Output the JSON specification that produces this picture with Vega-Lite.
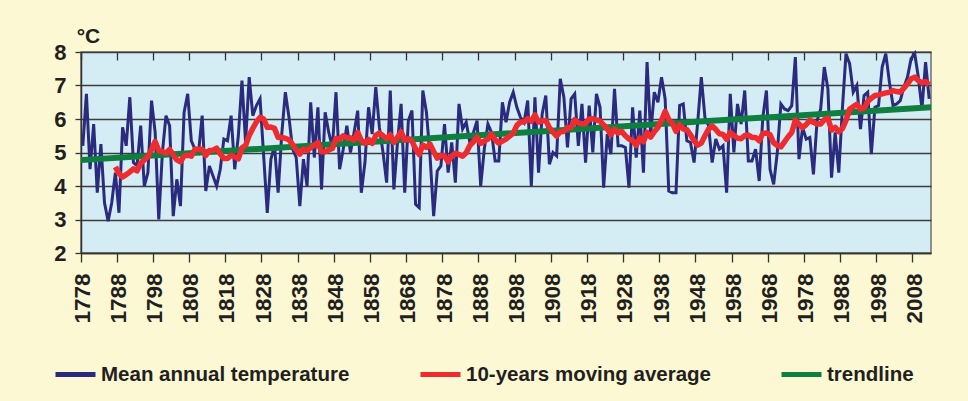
{
  "$schema": "https://vega.github.io/schema/vega-lite/v6.json",
  "autosize": {"type": "none"},
  "width": 850,
  "height": 201,
  "padding": {"left": 81, "top": 52, "right": 37, "bottom": 148},
  "background": "#FBF8D3",
  "config": {
    "font": "Liberation Sans",
    "view": {"fill": "#D4ECF4", "stroke": "#707070", "strokeWidth": 1.5},
    "axis": {"labelFont": "Liberation Sans", "titleFont": "Liberation Sans"},
    "axisY": {
      "labelOverlap": false,
      "titleAngle": 0, "titleX": 7, "titleY": -10,
      "titleAlign": "center", "titleBaseline": "alphabetic",
      "titleFontSize": 21, "titleFontWeight": "bold", "titleColor": "#231F20",
      "labelFontSize": 22, "labelFontWeight": "bold", "labelColor": "#231F20",
      "tickSize": 6, "tickColor": "#333333", "tickWidth": 1.3,
      "labelPadding": 9,
      "domainColor": "#333333", "domainWidth": 1.5,
      "grid": true, "gridColor": "#3c3c3c", "gridWidth": 1.3, "gridOpacity": 1
    },
    "legend": {"labelFont": "Liberation Sans"}
  },
  "data": {"values": [
    {"year":1778,"temp":5.2,"trend":4.78},{"year":1779,"temp":6.75},{"year":1780,"temp":4.5},{"year":1781,"temp":5.85},{"year":1782,"temp":3.8},{"year":1783,"temp":5.25},{"year":1784,"temp":3.5},{"year":1785,"temp":2.95},{"year":1786,"temp":3.5},
    {"year":1787,"temp":4.4,"ma":4.57},{"year":1788,"temp":3.2,"ma":4.37},{"year":1789,"temp":5.75,"ma":4.27},{"year":1790,"temp":5.2,"ma":4.34},{"year":1791,"temp":6.65,"ma":4.42},{"year":1792,"temp":4.7,"ma":4.51},{"year":1793,"temp":4.6,"ma":4.45},{"year":1794,"temp":5.8,"ma":4.68},{"year":1795,"temp":4.0,"ma":4.78},{"year":1796,"temp":4.4,"ma":4.87},
    {"year":1797,"temp":6.55,"ma":5.09},{"year":1798,"temp":5.6,"ma":5.33},{"year":1799,"temp":3.0,"ma":5.05},{"year":1800,"temp":5.0,"ma":5.03},{"year":1801,"temp":6.1,"ma":4.98},{"year":1802,"temp":5.8,"ma":5.09},{"year":1803,"temp":3.1,"ma":4.94},{"year":1804,"temp":4.2,"ma":4.78},{"year":1805,"temp":3.4,"ma":4.72},{"year":1806,"temp":6.2,"ma":4.9},
    {"year":1807,"temp":6.75,"ma":4.92},{"year":1808,"temp":5.35,"ma":4.89},{"year":1809,"temp":5.1,"ma":5.1},{"year":1810,"temp":5.0,"ma":5.1},{"year":1811,"temp":6.1,"ma":5.1},{"year":1812,"temp":3.85,"ma":4.91},{"year":1813,"temp":4.6,"ma":5.06},{"year":1814,"temp":4.3,"ma":5.07},{"year":1815,"temp":4.0,"ma":5.13},{"year":1816,"temp":4.5,"ma":4.96},
    {"year":1817,"temp":5.4,"ma":4.82},{"year":1818,"temp":5.35,"ma":4.82},{"year":1819,"temp":6.1,"ma":4.92},{"year":1820,"temp":4.5,"ma":4.87},{"year":1821,"temp":5.5,"ma":4.81},{"year":1822,"temp":7.15,"ma":5.14},{"year":1823,"temp":5.3,"ma":5.21},{"year":1824,"temp":7.25,"ma":5.51},{"year":1825,"temp":6.1,"ma":5.72},{"year":1826,"temp":6.4,"ma":5.91},
    {"year":1827,"temp":6.6,"ma":6.05},{"year":1828,"temp":4.9,"ma":6.0},{"year":1829,"temp":3.2,"ma":5.75},{"year":1830,"temp":4.8,"ma":5.76},{"year":1831,"temp":5.2,"ma":5.72},{"year":1832,"temp":3.8,"ma":5.45},{"year":1833,"temp":5.55,"ma":5.45},{"year":1834,"temp":6.8,"ma":5.42},{"year":1835,"temp":6.05,"ma":5.38},{"year":1836,"temp":5.1,"ma":5.24},
    {"year":1837,"temp":4.85,"ma":5.08},{"year":1838,"temp":3.4,"ma":4.95},{"year":1839,"temp":4.8,"ma":5.1},{"year":1840,"temp":4.0,"ma":5.05},{"year":1841,"temp":6.5,"ma":5.15},{"year":1842,"temp":4.85,"ma":5.22},{"year":1843,"temp":6.35,"ma":5.3},{"year":1844,"temp":3.9,"ma":5.02},{"year":1845,"temp":6.2,"ma":5.02},{"year":1846,"temp":5.6,"ma":5.08},
    {"year":1847,"temp":5.15,"ma":5.12},{"year":1848,"temp":6.8,"ma":5.42},{"year":1849,"temp":4.5,"ma":5.39},{"year":1850,"temp":5.1,"ma":5.5},{"year":1851,"temp":5.8,"ma":5.43},{"year":1852,"temp":5.0,"ma":5.44},{"year":1853,"temp":5.6,"ma":5.37},{"year":1854,"temp":6.25,"ma":5.6},{"year":1855,"temp":3.8,"ma":5.36},{"year":1856,"temp":4.7,"ma":5.27},
    {"year":1857,"temp":6.35,"ma":5.39},{"year":1858,"temp":5.55,"ma":5.27},{"year":1859,"temp":6.95,"ma":5.51},{"year":1860,"temp":5.75,"ma":5.58},{"year":1861,"temp":5.0,"ma":5.5},{"year":1862,"temp":4.1,"ma":5.41},{"year":1863,"temp":6.85,"ma":5.53},{"year":1864,"temp":3.9,"ma":5.3},{"year":1865,"temp":5.3,"ma":5.45},{"year":1866,"temp":6.45,"ma":5.62},
    {"year":1867,"temp":3.8,"ma":5.37},{"year":1868,"temp":5.95,"ma":5.41},{"year":1869,"temp":6.25,"ma":5.34},{"year":1870,"temp":3.45,"ma":5.11},{"year":1871,"temp":3.35,"ma":4.94},{"year":1872,"temp":6.85,"ma":5.22},{"year":1873,"temp":6.2,"ma":5.15},{"year":1874,"temp":4.9,"ma":5.25},{"year":1875,"temp":3.1,"ma":5.03},{"year":1876,"temp":4.45,"ma":4.83},
    {"year":1877,"temp":4.6,"ma":4.91},{"year":1878,"temp":5.85,"ma":4.9},{"year":1879,"temp":4.4,"ma":4.72},{"year":1880,"temp":5.3,"ma":4.9},{"year":1881,"temp":4.1,"ma":4.98},{"year":1882,"temp":6.45,"ma":4.94},{"year":1883,"temp":5.7,"ma":4.89},{"year":1884,"temp":5.9,"ma":4.99},{"year":1885,"temp":5.3,"ma":5.21},{"year":1886,"temp":5.6,"ma":5.32},
    {"year":1887,"temp":5.95,"ma":5.46},{"year":1888,"temp":4.0,"ma":5.27},{"year":1889,"temp":5.1,"ma":5.34},{"year":1890,"temp":5.85,"ma":5.4},{"year":1891,"temp":5.6,"ma":5.55},{"year":1892,"temp":4.75,"ma":5.38},{"year":1893,"temp":4.75,"ma":5.28},{"year":1894,"temp":6.5,"ma":5.34},{"year":1895,"temp":5.9,"ma":5.4},{"year":1896,"temp":6.5,"ma":5.49},
    {"year":1897,"temp":6.8,"ma":5.58},{"year":1898,"temp":6.35,"ma":5.81},{"year":1899,"temp":6.05,"ma":5.91},{"year":1900,"temp":5.9,"ma":5.91},{"year":1901,"temp":6.55,"ma":6.01},{"year":1902,"temp":4.0,"ma":5.93},{"year":1903,"temp":6.65,"ma":6.12},{"year":1904,"temp":4.4,"ma":5.91},{"year":1905,"temp":6.15,"ma":5.94},{"year":1906,"temp":6.7,"ma":5.96},
    {"year":1907,"temp":4.65,"ma":5.74},{"year":1908,"temp":5.0,"ma":5.61},{"year":1909,"temp":4.9,"ma":5.49},{"year":1910,"temp":7.2,"ma":5.62},{"year":1911,"temp":6.65,"ma":5.63},{"year":1912,"temp":5.15,"ma":5.75},{"year":1913,"temp":6.6,"ma":5.74},{"year":1914,"temp":6.75,"ma":5.98},{"year":1915,"temp":5.2,"ma":5.88},{"year":1916,"temp":6.45,"ma":5.86},
    {"year":1917,"temp":4.7,"ma":5.86},{"year":1918,"temp":6.4,"ma":6.0},{"year":1919,"temp":5.0,"ma":6.01},{"year":1920,"temp":6.75,"ma":5.97},{"year":1921,"temp":6.35,"ma":5.94},{"year":1922,"temp":3.95,"ma":5.82},{"year":1923,"temp":5.55,"ma":5.71},{"year":1924,"temp":4.95,"ma":5.53},{"year":1925,"temp":6.9,"ma":5.7},{"year":1926,"temp":5.2,"ma":5.58},
    {"year":1927,"temp":5.2,"ma":5.63},{"year":1928,"temp":5.15,"ma":5.5},{"year":1929,"temp":3.95,"ma":5.4},{"year":1930,"temp":6.35,"ma":5.36},{"year":1931,"temp":4.85,"ma":5.21},{"year":1932,"temp":6.25,"ma":5.44},{"year":1933,"temp":4.4,"ma":5.32},{"year":1934,"temp":7.7,"ma":5.6},{"year":1935,"temp":5.55,"ma":5.46},{"year":1936,"temp":6.8,"ma":5.62},
    {"year":1937,"temp":6.5,"ma":5.75},{"year":1938,"temp":7.25,"ma":5.96},{"year":1939,"temp":6.6,"ma":6.23},{"year":1940,"temp":3.85,"ma":5.98},{"year":1941,"temp":3.8,"ma":5.87},{"year":1942,"temp":3.8,"ma":5.63},{"year":1943,"temp":6.4,"ma":5.83},{"year":1944,"temp":6.45,"ma":5.7},{"year":1945,"temp":5.35,"ma":5.68},{"year":1946,"temp":5.3,"ma":5.53},
    {"year":1947,"temp":4.7,"ma":5.35},{"year":1948,"temp":5.9,"ma":5.22},{"year":1949,"temp":7.25,"ma":5.28},{"year":1950,"temp":6.05,"ma":5.5},{"year":1951,"temp":5.8,"ma":5.7},{"year":1952,"temp":4.7,"ma":5.79},{"year":1953,"temp":5.4,"ma":5.69},{"year":1954,"temp":5.1,"ma":5.56},{"year":1955,"temp":5.2,"ma":5.54},{"year":1956,"temp":3.8,"ma":5.39},
    {"year":1957,"temp":6.75,"ma":5.6},{"year":1958,"temp":5.0,"ma":5.51},{"year":1959,"temp":6.45,"ma":5.43},{"year":1960,"temp":5.85,"ma":5.41},{"year":1961,"temp":6.85,"ma":5.51},{"year":1962,"temp":4.75,"ma":5.52},{"year":1963,"temp":4.75,"ma":5.45},{"year":1964,"temp":5.1,"ma":5.45},{"year":1965,"temp":4.15,"ma":5.35},{"year":1966,"temp":6.05,"ma":5.57},
    {"year":1967,"temp":6.85,"ma":5.58},{"year":1968,"temp":4.5,"ma":5.53},{"year":1969,"temp":4.05,"ma":5.29},{"year":1970,"temp":5.0,"ma":5.21},{"year":1971,"temp":6.45,"ma":5.17},{"year":1972,"temp":6.3,"ma":5.32},{"year":1973,"temp":6.25,"ma":5.47},{"year":1974,"temp":6.4,"ma":5.6},{"year":1975,"temp":7.85,"ma":5.97},{"year":1976,"temp":4.8,"ma":5.85},
    {"year":1977,"temp":5.75,"ma":5.74},{"year":1978,"temp":5.4,"ma":5.83},{"year":1979,"temp":5.45,"ma":5.97},{"year":1980,"temp":4.35,"ma":5.9},{"year":1981,"temp":5.95,"ma":5.85},{"year":1982,"temp":6.3,"ma":5.85},{"year":1983,"temp":7.55,"ma":5.98},{"year":1984,"temp":6.9,"ma":6.03},{"year":1985,"temp":4.25,"ma":5.67},{"year":1986,"temp":5.6,"ma":5.75},
    {"year":1987,"temp":4.4,"ma":5.62},{"year":1988,"temp":6.3,"ma":5.71},{"year":1989,"temp":7.95,"ma":5.96},{"year":1990,"temp":7.65,"ma":6.29},{"year":1991,"temp":6.8,"ma":6.37},{"year":1992,"temp":7.0,"ma":6.44},{"year":1993,"temp":5.7,"ma":6.3},{"year":1994,"temp":6.7,"ma":6.32},{"year":1995,"temp":6.8,"ma":6.52},{"year":1996,"temp":4.95,"ma":6.62},
    {"year":1997,"temp":6.35,"ma":6.7},{"year":1998,"temp":6.4,"ma":6.72},{"year":1999,"temp":7.55,"ma":6.75},{"year":2000,"temp":7.95,"ma":6.78},{"year":2001,"temp":7.1,"ma":6.8},{"year":2002,"temp":6.4,"ma":6.85},{"year":2003,"temp":6.45,"ma":6.82},{"year":2004,"temp":6.55,"ma":6.8},{"year":2005,"temp":6.95,"ma":6.92},{"year":2006,"temp":7.25,"ma":7.05},
    {"year":2007,"temp":7.8,"ma":7.2},{"year":2008,"temp":7.95,"ma":7.25},{"year":2009,"temp":7.25,"ma":7.15},{"year":2010,"temp":6.3,"ma":7.08},{"year":2011,"temp":7.7,"ma":7.12},{"year":2012,"temp":6.6,"ma":7.02,"trend":6.35}
  ]},
  "encoding": {
    "x": {
      "field": "year", "type": "ordinal",
      "scale": {"type": "band", "paddingInner": 0, "paddingOuter": 0},
      "axis": {
        "title": null,
        "values": [1778,1788,1798,1808,1818,1828,1838,1848,1858,1868,1878,1888,1898,1908,1918,1928,1938,1948,1958,1968,1978,1988,1998,2008],
        "bandPosition": 0,
        "labelAngle": -90,
        "labelFontSize": 22.5,
        "labelFontWeight": "bold",
        "labelColor": "#231F20",
        "labelPadding": 11,
        "labelOverlap": false,
        "tickSize": 9,
        "tickColor": "#333333",
        "tickWidth": 1.3,
        "domainColor": "#333333",
        "domainWidth": 1.5,
        "grid": true,
        "gridDash": [8, 1000],
        "gridColor": "#333333",
        "gridWidth": 1.3,
        "gridOpacity": 1
      }
    }
  },
  "layer": [
    {
      "mark": {"type": "line", "strokeWidth": 3, "strokeJoin": "miter", "strokeMiterLimit": 4},
      "encoding": {
        "y": {
          "field": "temp", "type": "quantitative",
          "scale": {"domain": [2, 8], "nice": false, "zero": false},
          "title": "°C",
          "axis": {"values": [2,3,4,5,6,7,8]}
        },
        "color": {
          "datum": "Mean annual temperature",
          "scale": {
            "domain": ["Mean annual temperature", "10-years moving average", "trendline"],
            "range": ["#2A2B7E", "#EE2B2E", "#0F7F3F"]
          },
          "legend": {
            "title": null,
            "orient": "none",
            "legendX": -28,
            "legendY": 300,
            "direction": "horizontal",
            "symbolType": "stroke",
            "symbolSize": 1600,
            "symbolStrokeWidth": 5,
            "labelFontSize": 20.5,
            "labelFontWeight": "bold",
            "labelColor": "#231F20",
            "labelOffset": 3,
            "labelLimit": 500,
            "columnPadding": 60,
            "padding": 0
          }
        }
      }
    },
    {
      "mark": {"type": "line", "strokeWidth": 6, "strokeCap": "square", "clip": true, "invalid": "filter"},
      "encoding": {
        "y": {"field": "trend", "type": "quantitative", "title": "°C", "axis": {"values": [2,3,4,5,6,7,8]}},
        "color": {"datum": "trendline"}
      }
    },
    {
      "mark": {"type": "line", "strokeWidth": 5.5, "strokeJoin": "round", "invalid": "filter"},
      "encoding": {
        "y": {"field": "ma", "type": "quantitative", "title": "°C", "axis": {"values": [2,3,4,5,6,7,8]}},
        "color": {"datum": "10-years moving average"}
      }
    }
  ]
}
